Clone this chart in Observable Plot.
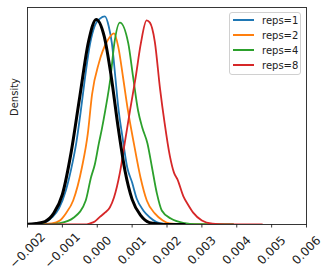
<!DOCTYPE html>
<html>
<head>
<meta charset="utf-8">
<script src="https://cdn.jsdelivr.net/npm/d3@7"></script>
<script src="https://cdn.jsdelivr.net/npm/@observablehq/plot@0.6"></script>
<style>
  body { margin: 0; background: #fff; font-family: "DejaVu Sans", sans-serif; }
  #wrap { position: relative; width: 330px; height: 279px; }
  #legend { position: absolute; left: 229px; top: 12px; width: 72px; height: 63px; box-sizing: border-box;
            border: 1px solid #d0d0d0; border-radius: 3px; background: rgba(255,255,255,0.8); }
  .row { position: absolute; left: 0; height: 15px; display: flex; align-items: center; font-size: 10px; color: #222; }
  .sw { width: 21px; height: 0; border-top: 2px solid; margin-left: 3px; margin-right: 8px; }
</style>
</head>
<body>
<div id="wrap"><div id="chart"></div><div id="legend"></div></div>
<script>
// ---- data (x in raw units, y = density) ----
const seriesNames = ["reps=1", "reps=2", "reps=4", "reps=8"];
const seriesColors = ["#1f77b4", "#ff7f0e", "#2ca02c", "#d62728"];

const reps1X = [-0.0025,-0.002,-0.00175,-0.0015,-0.0013,-0.0011,-0.0009,-0.00075,-0.0006,-0.00047,-0.00035,-0.00021,-0.00007,0.00008,0.00022,0.00033,0.00042,0.00052,0.0006,0.00072,0.00086,0.001,0.00113,0.00132,0.00151,0.0017,0.0019,0.0022,0.003,0.0039];
const reps1Y = [0,0,2,7,26,59,126,204,303,422,544,666,736,762,770,733,670,544,437,326,211,155,96,52,26,9,3,1,0,0];

const reps2X = [-0.0025,-0.00175,-0.0013,-0.00107,-0.0009,-0.00069,-0.00044,-0.00027,-0.00015,0.00005,0.00028,0.00048,0.0006,0.00074,0.00088,0.00105,0.00124,0.00142,0.00165,0.00188,0.00208,0.0024,0.0039];
const reps2Y = [0,1,4,15,41,89,211,337,481,599,677,707,659,544,422,300,174,89,41,15,4,1,0];

const reps4X = [-0.002,-0.0014,-0.00107,-0.00067,-0.00033,-0.00018,-0.00007,0.000046,0.00013,0.00023,0.00038,0.00049,0.00065,0.00089,0.00103,0.00117,0.00129,0.00144,0.00157,0.00171,0.00185,0.00211,0.00251,0.0028,0.0039];
const reps4Y = [0,1,5,26,89,174,222,300,352,422,544,670,747,670,544,422,359,300,211,115,52,22,5,1,0];

const reps8X = [-0.0015,-0.00036,-0.00021,-0.00007,0.000075,0.00022,0.00036,0.00048,0.00065,0.0008,0.00094,0.0011,0.00125,0.001415,0.00151,0.00165,0.0018,0.00193,0.00208,0.0022,0.0023,0.00247,0.0026,0.00275,0.003,0.0033,0.00366,0.00473];
const reps8Y = [0,0,4,11,28,44,63,100,192,311,422,544,670,755,747,677,503,377,255,192,167,104,74,44,15,3,0,0];

const normalX = [-0.0025,-0.002,-0.00175,-0.0015,-0.00125,-0.001,-0.00075,-0.0005,-0.00025,-0.00003,0.0002,0.0004,0.0006,0.0008,0.001,0.00125,0.0015,0.00175,0.002,0.0025];
const normalY = [0,1,4,11,41,111,266,474,677,759,696,548,359,196,93,33,7,2,0,0];

const xTicks = [-0.002,-0.001,0,0.001,0.002,0.003,0.004,0.005,0.006];
const xTickLabels = ["\u22120.002","\u22120.001","0.000","0.001","0.002","0.003","0.004","0.005","0.006"];
const yLabel = "Density";

// ---- build table ----
const seriesX = [reps1X, reps2X, reps4X, reps8X];
const seriesY = [reps1Y, reps2Y, reps4Y, reps8Y];
const rows = [];
seriesNames.forEach((name, s) => {
  seriesX[s].forEach((x, i) => rows.push({series: name, x, y: seriesY[s][i]}));
});
const normalRows = normalX.map((x, i) => ({x, y: normalY[i]}));

const chart = Plot.plot({
  width: 330,
  height: 279,
  marginLeft: 27,
  marginRight: 24,
  marginTop: 7,
  marginBottom: 55,
  style: {fontFamily: "DejaVu Sans", fontSize: "10px", background: "white", color: "black"},
  x: {domain: [-0.002, 0.006]},
  y: {domain: [0, 803], axis: null},
  color: {domain: seriesNames, range: seriesColors},
  marks: [
    Plot.line(rows, {x: "x", y: "y", z: "series", stroke: "series", strokeWidth: 1.8, curve: "monotone-x", clip: true}),
    Plot.line(normalRows, {x: "x", y: "y", stroke: "black", strokeWidth: 3, curve: "monotone-x", clip: true}),
    Plot.frame({stroke: "#222", strokeWidth: 0.9}),
    Plot.axisX({ticks: xTicks, tickSize: 3.5, tickFormat: () => "", label: null, stroke: "#222", strokeWidth: 0.9}),
    Plot.text(xTicks, {x: d => d, text: (d, i) => xTickLabels[i], frameAnchor: "bottom", dy: 26, rotate: -45,
                       textAnchor: "middle", lineAnchor: "middle", fontSize: 12, fill: "#222"}),
    Plot.text([yLabel], {text: d => d, frameAnchor: "left", dx: -13, rotate: -90, fontSize: 10, fill: "#222"})
  ]
});
document.getElementById("chart").appendChild(chart);

// ---- legend ----
const legend = document.getElementById("legend");
seriesNames.forEach((name, i) => {
  const row = document.createElement("div");
  row.className = "row";
  row.style.top = (-0.5 + 15 * i) + "px";
  const sw = document.createElement("span");
  sw.className = "sw";
  sw.style.borderColor = seriesColors[i];
  const t = document.createElement("span");
  t.textContent = name;
  row.appendChild(sw);
  row.appendChild(t);
  legend.appendChild(row);
});
</script>
</body>
</html>
